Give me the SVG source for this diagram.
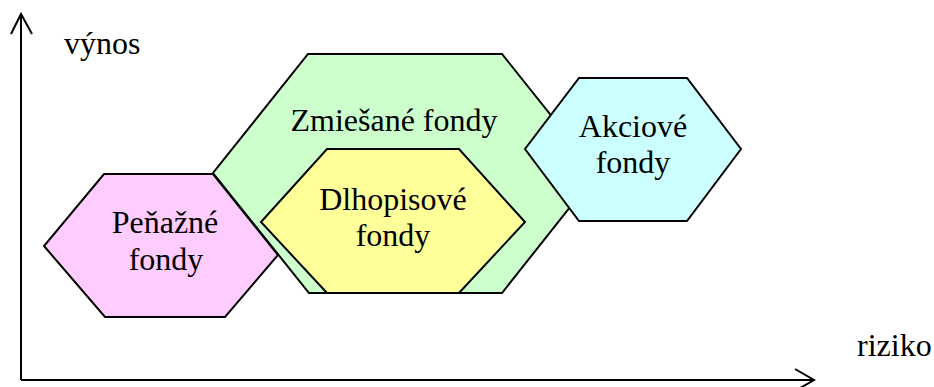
<svg xmlns="http://www.w3.org/2000/svg" width="934" height="387" viewBox="0 0 934 387">
<style>
.hex{stroke:#000;stroke-width:2;stroke-linejoin:miter}
.t{font-family:"Liberation Serif","Times New Roman",serif;font-size:32px;fill:#000}
.m{text-anchor:middle}
.ax{stroke:#000;stroke-width:2;fill:none}
</style>
<rect width="934" height="387" fill="#fff"/>
<g id="axes">
<line class="ax" x1="21" y1="380" x2="21" y2="14"/>
<polyline class="ax" points="11,34 21,14 32,34"/>
<line class="ax" x1="21" y1="380" x2="813" y2="380"/>
<polyline class="ax" points="795,369 814,380 795,391"/>
</g>
<g id="zmiesane">
<polygon class="hex" fill="#CCFFCC" points="308,54 502,54 597,173 502,293 309,293 213,173"/>
<text class="t m" x="394" y="131">Zmiešané fondy</text>
</g>
<g id="penazne">
<polygon class="hex" fill="#FFCCFF" points="104,174 213,174 278,255 225,317 105,317 44,246"/>
<text class="t m" x="165" y="233">Peňažné</text>
<text class="t m" x="166" y="270">fondy</text>
</g>
<g id="dlhopisove">
<polygon class="hex" fill="#FFFF99" points="327,149 459,149 525,222 459,293 327,293 261,222"/>
<text class="t m" x="393" y="210">Dlhopisové</text>
<text class="t m" x="393" y="246">fondy</text>
</g>
<g id="akciove">
<polygon class="hex" fill="#CCFFFF" points="579,78 687,78 741,149 687,221 579,221 525,149"/>
<text class="t m" x="633" y="137">Akciové</text>
<text class="t m" x="633" y="173">fondy</text>
</g>
<g id="labels">
<text class="t" x="64" y="54">výnos</text>
<text class="t" x="857" y="356">riziko</text>
</g>
</svg>
